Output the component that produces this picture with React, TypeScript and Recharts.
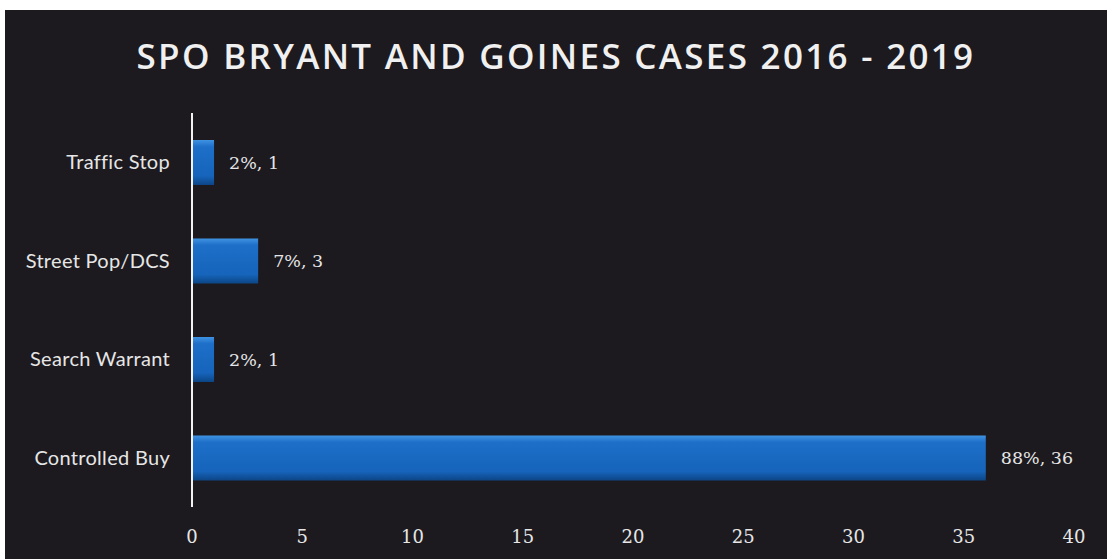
import { BarChart, Bar, XAxis, YAxis, LabelList } from "recharts";

const categories = ["Traffic Stop", "Street Pop/DCS", "Search Warrant", "Controlled Buy"];
const caseCounts = [1, 3, 1, 36];
const casePercents = ["2%", "7%", "2%", "88%"];
const xTicks = [0, 5, 10, 15, 20, 25, 30, 35, 40];

const data = categories.map((name, i) => ({
  name,
  cases: caseCounts[i],
  label: `${casePercents[i]}, ${caseCounts[i]}`,
}));

const BG = "#1c1a1f";
const TEXT = "#e6e6e6";

const App = () => {
  return (
    <div
      style={{
        position: "absolute",
        left: 0,
        top: 0,
        width: 1107,
        height: 559,
        background: "#ffffff",
        overflow: "hidden",
      }}
    >
      <div
        style={{
          position: "absolute",
          left: 5,
          top: 10,
          width: 1102,
          height: 549,
          background: BG,
        }}
      >
        {/* Title */}
        <div
          style={{
            position: "absolute",
            left: 0,
            top: 22,
            width: 1102,
            textAlign: "center",
            fontFamily: "'Open Sans', sans-serif",
            fontWeight: 600,
            fontSize: 35,
            letterSpacing: 2.3,
            lineHeight: "48px",
            color: "#f0f0f0",
          }}
        >
          SPO BRYANT AND GOINES CASES 2016 - 2019
        </div>

        <BarChart
          width={1102}
          height={549}
          data={data}
          layout="vertical"
          margin={{ top: 103, right: 33, left: 0, bottom: 22 }}
          barSize={45}
          style={{ position: "absolute", left: 0, top: 0 }}
        >
          <defs>
            <linearGradient id="barFill" x1="0" y1="0" x2="0" y2="1">
              <stop offset="0%" stopColor="#3f93e2" />
              <stop offset="15%" stopColor="#1d6fc8" />
              <stop offset="80%" stopColor="#1664bb" />
              <stop offset="100%" stopColor="#0c4585" />
            </linearGradient>
          </defs>
          <XAxis
            type="number"
            domain={[0, 40]}
            ticks={xTicks}
            axisLine={false}
            tickLine={false}
            tickMargin={17}
            height={30}
            tick={{ fill: TEXT, fontSize: 18, fontFamily: "'DejaVu Serif', serif" }}
          />
          <YAxis
            type="category"
            dataKey="name"
            width={187}
            axisLine={{ stroke: "#f2f2f2", strokeWidth: 2 }}
            tickLine={false}
            tickMargin={16}
            tick={{ fill: TEXT, fontSize: 20, fontFamily: "Lato, sans-serif", letterSpacing: 0.3 }}
          />
          <Bar dataKey="cases" fill="url(#barFill)" isAnimationActive={false}>
            <LabelList
              dataKey="label"
              position="right"
              offset={15}
              fill={TEXT}
              fontSize={17.5}
              fontFamily="'DejaVu Serif', serif"
            />
          </Bar>
        </BarChart>
      </div>
    </div>
  );
};

export default App;
